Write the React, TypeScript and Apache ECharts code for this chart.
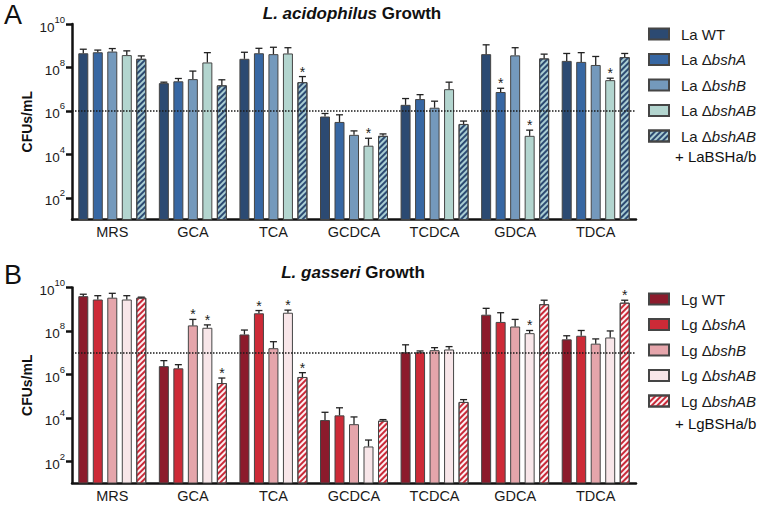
import React, { useEffect, useRef } from 'react';
import * as echarts from 'echarts';

const FONT = '"Liberation Sans", Arial, Helvetica, sans-serif';

const categories = ['MRS', 'GCA', 'TCA', 'GCDCA', 'TCDCA', 'GDCA', 'TDCA'];
const yTicks = [1e2, 1e4, 1e6, 1e8, 1e10];

// Panel A: L. acidophilus (CFUs/mL means)
const laNames = ['La WT', 'La ΔbshA', 'La ΔbshB', 'La ΔbshAB', 'La ΔbshAB + LaBSHa/b'];
const laWT = [4.5e8, 1.9e7, 2.5e8, 5.5e5, 1.9e6, 4.1e8, 2.0e8];
const laBshA = [5.0e8, 2.3e7, 4.5e8, 3.1e5, 3.5e6, 7.4e6, 1.8e8];
const laBshB = [5.4e8, 2.9e7, 4.1e8, 7.9e4, 1.4e6, 3.6e8, 1.3e8];
const laBshAB = [3.7e8, 1.7e8, 4.4e8, 2.5e4, 1.0e7, 7.1e4, 2.6e7];
const laComp = [2.5e8, 1.5e7, 2.1e7, 7.1e4, 2.5e5, 2.6e8, 3.0e8];
// upper end of error bars
const laWTHi = [6.9e8, 2.1e7, 5.0e8, 7.6e5, 3.7e6, 1.1e9, 4.4e8];
const laBshAHi = [6.3e8, 3.1e7, 7.6e8, 6.6e5, 5.6e6, 1.1e7, 4.8e8];
const laBshBHi = [7.4e8, 6.8e7, 8.5e8, 1.2e5, 2.8e6, 8.1e8, 3.2e8];
const laBshABHi = [5.8e8, 4.8e8, 8.1e8, 5.5e4, 2.1e7, 1.3e5, 3.2e7];
const laCompHi = [3.4e8, 2.7e7, 3.8e7, 8.7e4, 3.4e5, 4.1e8, 4.4e8];
// [category index, strain index]
const laStars = [[2, 4], [3, 3], [5, 1], [5, 3], [6, 3]];
const laCutoff = 1e6;

// Panel B: L. gasseri
const lgNames = ['Lg WT', 'Lg ΔbshA', 'Lg ΔbshB', 'Lg ΔbshAB', 'Lg ΔbshAB + LgBSHa/b'];
const lgWT = [4.0e9, 2.4e6, 6.9e7, 7.9e3, 1.05e7, 5.6e8, 4.1e7];
const lgBshA = [2.8e9, 1.9e6, 6.5e8, 1.3e4, 1.05e7, 2.6e8, 6.0e7];
const lgBshB = [3.4e9, 1.8e8, 1.6e7, 5.1e3, 1.3e7, 1.6e8, 2.6e7];
const lgBshAB = [2.8e9, 1.4e8, 6.9e8, 4.8e2, 1.4e7, 7.9e7, 5.0e7];
const lgComp = [3.4e9, 4.0e5, 7.6e5, 7.4e3, 5.4e4, 1.7e9, 2.0e9];
const lgWTHi = [4.9e9, 4.3e6, 1.1e8, 1.8e4, 2.3e7, 1.1e9, 6.0e7];
const lgBshAHi = [4.2e9, 2.8e6, 8.7e8, 2.9e4, 1.2e7, 6.9e8, 1.05e8];
const lgBshBHi = [5.4e9, 3.4e8, 3.2e7, 1.1e4, 1.7e7, 3.4e8, 4.3e7];
const lgBshABHi = [4.2e9, 1.9e8, 9.1e8, 9.5e2, 1.9e7, 1.05e8, 1.0e8];
const lgCompHi = [3.6e9, 6.8e5, 1.2e6, 8.3e3, 6.9e4, 2.6e9, 2.6e9];
const lgStars = [[1, 2], [1, 3], [1, 4], [2, 1], [2, 3], [2, 4], [5, 3], [6, 4]];
const lgCutoff = 1e7;

const laColors = ['#2c4a72', '#3767a3', '#7499bc', '#b3d5cf', '#a9cdd3'];
const laStripe = '#2c4a72';
const lgColors = ['#8c1b2c', '#cd2a37', '#e5a5ab', '#f8e6e9', '#fcf0f2'];
const lgStripe = '#c92a39';

const BAR_W = 10;
const BAR_GAP = 4.5;

function buildPanel(
  idx: number,
  names: string[],
  means: number[][],
  highs: number[][],
  stars: number[][],
  colors: string[],
  stripe: string,
  cutoff: number
) {
  const series: any[] = means.map((m, k) => ({
    type: 'bar',
    name: names[k],
    xAxisIndex: idx,
    yAxisIndex: idx,
    data: m,
    barWidth: BAR_W,
    barGap: `${(BAR_GAP / BAR_W) * 100}%`,
    clip: true,
    itemStyle: {
      color: colors[k],
      borderColor: '#454545',
      borderWidth: 1,
      decal:
        k === 4
          ? {
              symbol: 'rect',
              symbolSize: 1,
              dashArrayX: [1, 0],
              dashArrayY: [1.6, 2],
              rotation: -Math.PI / 4,
              color: stripe,
            }
          : undefined,
    },
    markLine:
      k === 0
        ? {
            silent: true,
            symbol: ['none', 'none'],
            label: { show: false },
            lineStyle: { type: 'dotted', color: '#1a1a1a', width: 1.5 },
            data: [{ yAxis: cutoff }],
          }
        : undefined,
  }));
  const errData: number[][] = [];
  means.forEach((m, k) => {
    m.forEach((v, c) => {
      const star = stars.some((s) => s[0] === c && s[1] === k) ? 1 : 0;
      errData.push([c, k, v, highs[k][c], star]);
    });
  });
  series.push({
    type: 'custom',
    xAxisIndex: idx,
    yAxisIndex: idx,
    silent: true,
    z: 10,
    encode: { x: 0, y: 3 },
    data: errData,
    renderItem: (params: any, api: any) => {
      const cat = api.value(0);
      const k = api.value(1);
      const base = api.coord([cat, api.value(2)]);
      const top = api.coord([cat, api.value(3)]);
      const x = base[0] + (k - 2) * (BAR_W + BAR_GAP);
      const st = { stroke: '#222', lineWidth: 1.3 };
      const children: any[] = [
        { type: 'line', shape: { x1: x, y1: base[1], x2: x, y2: top[1] }, style: st },
        { type: 'line', shape: { x1: x - 3.5, y1: top[1], x2: x + 3.5, y2: top[1] }, style: st },
      ];
      if (api.value(4)) {
        children.push({
          type: 'text',
          x,
          y: top[1] + 2,
          style: {
            text: '*',
            align: 'center',
            verticalAlign: 'bottom',
            fontSize: 14,
            fontFamily: FONT,
            fill: '#222',
          },
        });
      }
      return { type: 'group', children };
    },
  });
  return series;
}

const gridTops = [24, 287.5];
const GRID_H = 195.5;

function yAxisFor(idx: number) {
  return {
    type: 'log',
    logBase: 10,
    gridIndex: idx,
    min: 10,
    max: 1e10,
    name: 'CFUs/mL',
    nameLocation: 'middle',
    nameGap: 38,
    nameMoveOverlap: false,
    nameTextStyle: { fontWeight: 'bold', fontSize: 14, color: '#111', fontFamily: FONT },
    axisLine: { show: true, lineStyle: { color: '#111', width: 2.5 } },
    axisTick: { show: true, length: 6, lineStyle: { color: '#111', width: 2.5 }, customValues: yTicks },
    splitLine: { show: false },
    axisLabel: {
      customValues: yTicks,
      margin: 7,
      formatter: (v: number) => `{b|10}{s|${Math.round(Math.log10(v))}}`,
      rich: {
        b: { fontSize: 13.5, color: '#1a1a1a', fontFamily: FONT, lineHeight: 20, verticalAlign: 'bottom' },
        s: { fontSize: 9.5, color: '#1a1a1a', fontFamily: FONT, lineHeight: 10, verticalAlign: 'top' },
      },
    },
  };
}

function xAxisFor(idx: number) {
  return {
    type: 'category',
    gridIndex: idx,
    data: categories,
    axisLine: { show: true, lineStyle: { color: '#111', width: 2.5 } },
    axisTick: { show: false },
    axisLabel: { fontSize: 14.5, color: '#1a1a1a', fontFamily: FONT, margin: 5 },
  };
}

function legendFor(names: string[], top: number) {
  return {
    data: names,
    orient: 'vertical',
    left: 643,
    top,
    icon: 'rect',
    itemWidth: 20,
    itemHeight: 11,
    itemGap: 10.5,
    selectedMode: false,
    formatter: (name: string) => name.split(' + ')[0].replace(/(bsh\w+)/, '{i|$1}'),
    textStyle: {
      fontSize: 15,
      color: '#1a1a1a',
      fontFamily: FONT,
      padding: [0, 0, 0, 7],
      rich: { i: { fontStyle: 'italic', fontSize: 15, color: '#1a1a1a', fontFamily: FONT } },
    },
  };
}

function titleText(x: number, y: number, species: string) {
  return {
    type: 'text',
    x,
    y,
    style: {
      text: `{i|${species}} Growth`,
      align: 'center',
      verticalAlign: 'middle',
      fontSize: 17,
      fontWeight: 'bold',
      fontFamily: FONT,
      fill: '#111',
      rich: { i: { fontStyle: 'italic', fontWeight: 'bold', fontSize: 17, fontFamily: FONT, fill: '#111' } },
    },
  };
}

function plainText(x: number, y: number, text: string, fontSize: number) {
  return {
    type: 'text',
    x,
    y,
    style: { text, align: 'left', verticalAlign: 'middle', fontSize, fontFamily: FONT, fill: '#111' },
  };
}

export default function App() {
  const ref = useRef<HTMLDivElement>(null);
  useEffect(() => {
    if (!ref.current) return;
    const chart = echarts.init(ref.current, undefined, { renderer: 'svg' });
    const option: any = {
      animation: false,
      backgroundColor: '#ffffff',
      grid: gridTops.map((t) => ({ left: 72, width: 564, top: t, height: GRID_H, outerBoundsMode: 'none' })),
      xAxis: [xAxisFor(0), xAxisFor(1)],
      yAxis: [yAxisFor(0), yAxisFor(1)],
      legend: [legendFor(laNames, 21.5), legendFor(lgNames, 286.5)],
      series: [
        ...buildPanel(
          0,
          laNames,
          [laWT, laBshA, laBshB, laBshAB, laComp],
          [laWTHi, laBshAHi, laBshBHi, laBshABHi, laCompHi],
          laStars,
          laColors,
          laStripe,
          laCutoff
        ),
        ...buildPanel(
          1,
          lgNames,
          [lgWT, lgBshA, lgBshB, lgBshAB, lgComp],
          [lgWTHi, lgBshAHi, lgBshBHi, lgBshABHi, lgCompHi],
          lgStars,
          lgColors,
          lgStripe,
          lgCutoff
        ),
      ],
      graphic: [
        plainText(4, 15, 'A', 27),
        plainText(4, 275, 'B', 27),
        titleText(352, 13, 'L. acidophilus'),
        titleText(353, 272, 'L. gasseri'),
        plainText(675, 156, '+ LaBSHa/b', 15),
        plainText(675, 423, '+ LgBSHa/b', 15),
      ],
    };
    chart.setOption(option);
    return () => chart.dispose();
  }, []);
  return (
    <div
      ref={ref}
      style={{ position: 'fixed', left: 0, top: 0, width: 761, height: 506, background: '#fff' }}
    />
  );
}
